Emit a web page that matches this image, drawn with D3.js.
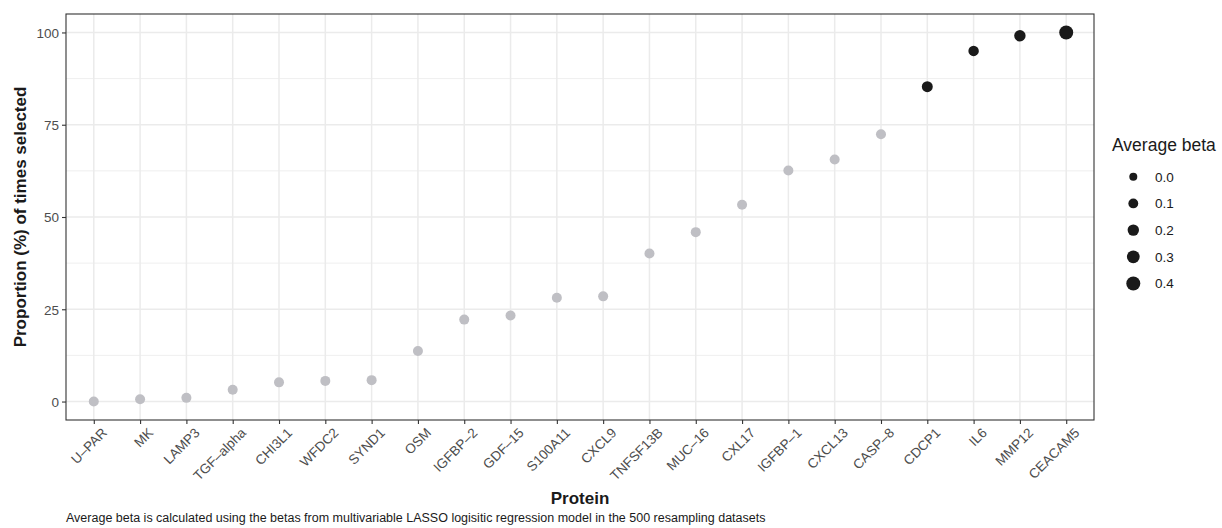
<!DOCTYPE html>
<html>
<head>
<meta charset="utf-8">
<script src="https://cdn.jsdelivr.net/npm/d3@7"></script>
<style>
  body { margin: 0; background: #fff; }
  svg { font-family: "Liberation Sans", Arial, sans-serif; }
</style>
</head>
<body>
<svg id="chart" width="1222" height="528"></svg>
<script>
// proteins, ordered as on the axis
var proteins = ["U–PAR", "MK", "LAMP3", "TGF–alpha", "CHI3L1", "WFDC2", "SYND1", "OSM",
    "IGFBP–2", "GDF–15", "S100A11", "CXCL9", "TNFSF13B", "MUC–16", "CXL17", "IGFBP–1",
    "CXCL13", "CASP–8", "CDCP1", "IL6", "MMP12", "CEACAM5"];

// proportion (%) of times selected
var proportion = [0, 0.6, 1, 3.2, 5.2, 5.6, 5.8, 13.7,
    22.2, 23.3, 28.1, 28.5, 40.1, 45.9, 53.3, 62.6,
    65.6, 72.4, 85.3, 95, 99.1, 100];

// average beta (only for proteins kept in the final model, others drawn grey)
var avgBeta = [null, null, null, null, null, null, null, null,
    null, null, null, null, null, null, null, null,
    null, null, 0.17, 0.14, 0.2, 0.4];

var yTicks = [0, 25, 50, 75, 100];
var yMinor = [12.5, 37.5, 62.5, 87.5];
var legendBreaks = [0.0, 0.1, 0.2, 0.3, 0.4];

var margin = {top: 14, right: 128, bottom: 108, left: 66};
var W = 1222, H = 528;
var pw = W - margin.left - margin.right,
    ph = H - margin.top - margin.bottom;

var svg = d3.select("#chart");
var g = svg.append("g").attr("transform", "translate(" + margin.left + "," + margin.top + ")");

var x = d3.scalePoint().domain(proteins).range([0, pw]).padding(0.6);
var y = d3.scaleLinear().domain([-5, 105]).range([ph, 0]);
// size scale on area, as ggplot does
var sizeArea = d3.scaleLinear().domain([0, 0.4]).range([16, 49]);
function rad(b){ return Math.sqrt(sizeArea(b)); }

//grid
g.selectAll(".ymin").data(yMinor).enter().append("line")
    .attr("x1", 0).attr("x2", pw)
    .attr("y1", function(d){ return y(d); }).attr("y2", function(d){ return y(d); })
    .attr("stroke", "#ebebeb").attr("stroke-width", 0.8);
g.selectAll(".ymaj").data(yTicks).enter().append("line")
    .attr("x1", 0).attr("x2", pw)
    .attr("y1", function(d){ return y(d); }).attr("y2", function(d){ return y(d); })
    .attr("stroke", "#ebebeb").attr("stroke-width", 1.5);
g.selectAll(".xmaj").data(proteins).enter().append("line")
    .attr("y1", 0).attr("y2", ph)
    .attr("x1", function(d){ return x(d); }).attr("x2", function(d){ return x(d); })
    .attr("stroke", "#ebebeb").attr("stroke-width", 1.5);

//points
var pts = proteins.map(function(p, i){
    return {name: p, value: proportion[i], beta: avgBeta[i]};
});
g.selectAll(".pt").data(pts).enter().append("circle")
    .attr("cx", function(d){ return x(d.name); })
    .attr("cy", function(d){ return y(d.value); })
    .attr("r", function(d){ return d.beta == null ? 5 : rad(d.beta); })
    .attr("fill", function(d){ return d.beta == null ? "#bfbfc4" : "#1a1a1a"; });

//panel border
g.append("rect").attr("width", pw).attr("height", ph)
    .attr("fill", "none").attr("stroke", "#333").attr("stroke-width", 1.1);

//axes
var yAxis = g.append("g").call(d3.axisLeft(y).tickValues(yTicks).tickSize(4).tickPadding(3));
var xAxis = g.append("g").attr("transform", "translate(0," + ph + ")")
    .call(d3.axisBottom(x).tickSize(4).tickPadding(3));
[yAxis, xAxis].forEach(function(a){
    a.select(".domain").remove();
    a.selectAll(".tick line").attr("stroke", "#333").attr("stroke-width", 1.1);
    a.selectAll(".tick text").attr("fill", "#4d4d4d").style("font-size", "13.5px");
});
yAxis.selectAll(".tick text").attr("dy", "0.36em");
xAxis.selectAll(".tick text")
    .attr("text-anchor", "end")
    .attr("transform", "translate(4,4) rotate(-45)")
    .attr("dy", "0.71em")
    .attr("y", 4).attr("x", 0);

//axis titles
svg.append("text")
    .attr("x", margin.left + pw / 2).attr("y", 504)
    .attr("text-anchor", "middle").style("font-size", "17px").style("font-weight", "bold")
    .attr("fill", "#1a1a1a").text("Protein");
svg.append("text")
    .attr("transform", "translate(26," + (margin.top + ph / 2) + ") rotate(-90)")
    .attr("text-anchor", "middle").style("font-size", "17px").style("font-weight", "bold")
    .attr("fill", "#1a1a1a").text("Proportion (%) of times selected");

//caption
svg.append("text")
    .attr("x", 66).attr("y", 522)
    .style("font-size", "12.5px").attr("fill", "#1a1a1a")
    .text("Average beta is calculated using the betas from multivariable LASSO logisitic regression model in the 500 resampling datasets");

//legend
var lg = svg.append("g").attr("transform", "translate(1112,0)");
lg.append("text").attr("x", 0).attr("y", 151)
    .style("font-size", "17.5px").attr("fill", "#1a1a1a").text("Average beta");
var items = lg.selectAll(".li").data(legendBreaks).enter().append("g")
    .attr("transform", function(d, i){ return "translate(0," + (176.7 + i * 26.7) + ")"; });
items.append("circle").attr("cx", 21.3).attr("cy", 0)
    .attr("r", function(d){ return rad(d); }).attr("fill", "#1a1a1a");
items.append("text").attr("x", 43).attr("y", 0).attr("dy", "0.36em")
    .style("font-size", "13.5px").attr("fill", "#1a1a1a")
    .text(function(d){ return d.toFixed(1); });
</script>
</body>
</html>
